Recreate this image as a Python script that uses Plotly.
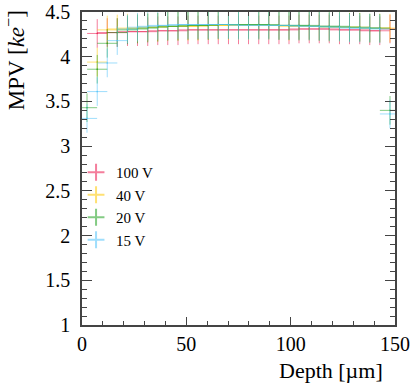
import plotly.graph_objects as go

# bin centres along the depth (um) and half bin width
depth = [2.4, 7.3, 12.1, 16.9, 21.8, 26.6, 31.5, 36.3, 41.1, 46.0, 50.8,
         55.6, 60.5, 65.3, 70.2, 75.0, 79.8, 84.7, 89.5, 94.4, 99.2,
         104.0, 108.9, 113.7, 118.5, 123.4, 128.2, 133.1, 137.9, 142.7, 147.6]
depth_err = 4.84

mpv_100v = [None, 4.26, 4.27, 4.27, 4.28, 4.28, 4.28, 4.29, 4.29, 4.29, 4.30,
            4.30, 4.30, 4.30, 4.30, 4.30, 4.30, 4.30, 4.30, 4.30, 4.30,
            4.31, 4.31, 4.31, 4.31, 4.30, 4.30, 4.30, 4.29, 4.29, 4.31]
mpv_40v = [None, 3.94, 4.30, 4.31, 4.32, 4.32, 4.33, 4.33, 4.34, 4.34, 4.34,
           4.34, 4.35, 4.35, 4.35, 4.35, 4.35, 4.35, 4.35, 4.35, 4.34,
           4.34, 4.34, 4.34, 4.33, 4.33, 4.33, 4.33, 4.32, 4.32, 4.32]
mpv_20v = [3.43, 3.86, 4.15, 4.27, 4.30, 4.31, 4.32, 4.33, 4.34, 4.34, 4.35,
           4.35, 4.35, 4.36, 4.36, 4.36, 4.36, 4.36, 4.36, 4.35, 4.35,
           4.35, 4.35, 4.34, 4.34, 4.34, 4.33, 4.33, 4.32, 4.32, 3.40]
mpv_15v = [3.31, 3.61, 3.93, 4.18, 4.31, 4.33, 4.34, 4.35, 4.35, 4.36, 4.36,
           4.36, 4.36, 4.36, 4.36, 4.35, 4.35, 4.35, 4.35, 4.35, 4.35,
           4.34, 4.34, 4.34, 4.33, 4.33, 4.32, 4.32, 4.32, 4.31, 3.36]
mpv_err = 0.16

series = [
    ("100 V", mpv_100v, "rgba(235,20,75,0.55)"),
    ("40 V", mpv_40v, "rgba(255,200,0,0.55)"),
    ("20 V", mpv_20v, "rgba(30,160,30,0.55)"),
    ("15 V", mpv_15v, "rgba(80,195,250,0.55)"),
]

FONT = "Liberation Serif"

fig = go.Figure()
for name, vals, col in series:
    fig.add_trace(go.Scatter(
        x=depth, y=vals, name=name, mode="markers",
        marker=dict(symbol="cross-thin-open", size=1, color=col,
                    line=dict(color=col, width=1)),
        error_x=dict(type="constant", value=depth_err, color=col,
                     thickness=1, width=0),
        error_y=dict(type="constant", value=mpv_err, color=col,
                     thickness=1, width=0),
    ))

axis_common = dict(
    showgrid=False, zeroline=False, showline=True, linecolor="#444",
    linewidth=1.5, mirror="ticks", ticks="inside", tickcolor="#444",
    automargin=False, ticklabeloverflow="allow",
    tickfont=dict(family=FONT, size=20, color="black"),
)

fig.update_xaxes(range=[0, 150], tickvals=[0, 50, 100, 150], ticklen=8,
                 minor=dict(dtick=10, ticks="inside", ticklen=4,
                            tickcolor="#444"),
                 **axis_common)
fig.update_yaxes(range=[1, 4.5], dtick=0.5, ticklen=10,
                 ticklabelstandoff=6,
                 minor=dict(dtick=0.1, ticks="inside", ticklen=5,
                            tickcolor="#444"),
                 **axis_common)

fig.update_layout(
    width=415, height=391,
    margin=dict(l=82, r=20, t=12, b=66),
    plot_bgcolor="white", paper_bgcolor="white",
    font=dict(family=FONT, size=16, color="black"),
    legend=dict(x=-0.019, y=0.540, xanchor="left", yanchor="top",
                bgcolor="rgba(0,0,0,0)", itemsizing="constant",
                font=dict(family=FONT, size=15), tracegroupgap=0),
    annotations=[
        dict(text="Depth [µm]", xref="paper", yref="paper", x=0.968,
             y=-0.144, xanchor="right", yanchor="middle", showarrow=False,
             font=dict(family=FONT, size=22)),
        dict(text="MPV [<i>ke</i><sup>−</sup>]", xref="paper", yref="paper",
             x=-0.215, y=0.845, xanchor="center", yanchor="middle",
             textangle=-90, showarrow=False,
             font=dict(family=FONT, size=23)),
    ],
)

# drop the default page margin so the figure sits at the window's corner
fig.write_html("out.html", config={"displayModeBar": False},
               post_script="document.body.style.margin='0';")
